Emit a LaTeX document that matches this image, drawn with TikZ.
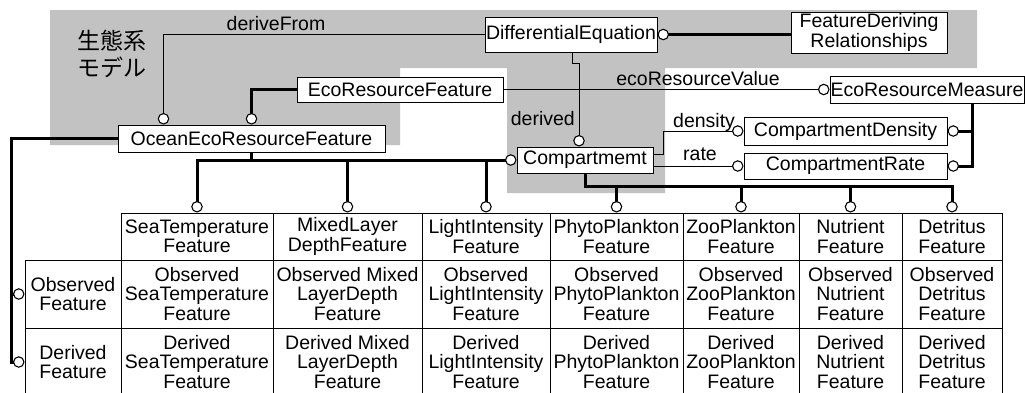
\documentclass[tikz,border=0pt]{standalone}
\usepackage{fontspec}
\setmainfont{Liberation Sans}
\newfontfamily\jpfont{Noto Sans CJK JP}
\usetikzlibrary{arrows.meta}

\begin{document}
\begin{tikzpicture}[x=1pt,y=-1pt,>={Circle[fill=white,length=11.5pt,line width'=1.1pt]},
	font=\fontsize{19.5}{19.5}\selectfont,
	box/.style={draw,line width=1pt,fill=white,inner sep=0pt,align=center},
	cell/.style={draw,line width=1pt,inner sep=0pt,align=center,minimum height=68pt},
	lbl/.style={inner sep=0pt},
	thk/.style={line width=3pt},
	thn/.style={line width=0.8pt}]
			\useasboundingbox(0,0)rectangle(1025,392);
			% shaded model area
			\fill[black!24](50,10)--(977,10)--(977,68)--(665,68)--(665,193)--(507,193)--(507,68)--(400,68)--(400,145)--(50,145)--cycle;
			\node[lbl,align=left,font=\jpfont\fontsize{23}{27}\selectfont](eco)at(112,53.5){生態系\\モデル};
			% classes
			\node[box,minimum width=172pt,minimum height=35pt](diffeq)at(571,34.5){DifferentialEquation};
			\node[box,minimum width=156pt,minimum height=41pt,font=\fontsize{19.5}{17.5}\selectfont](fdr)at(869,32.5){FeatureDeriving\\Relationships};
			\node[box,minimum width=206pt,minimum height=25pt](erf)at(400,89.5){EcoResourceFeature};
			\node[box,minimum width=194pt,minimum height=27pt](erm)at(927,89.5){EcoResourceMeasure};
			\node[box,minimum width=267pt,minimum height=27pt](oerf)at(251.5,138.5){OceanEcoResourceFeature};
			\node[box,minimum width=136pt,minimum height=26pt](cmp)at(585,160){Compartmemt};
			\node[box,minimum width=203pt,minimum height=28pt](cd)at(845.5,131){CompartmentDensity};
			\node[box,minimum width=203pt,minimum height=26pt](cr)at(845.5,166){CompartmentRate};
			% table
			\node[cell,minimum width=152pt,minimum height=47pt](st)at(197,236.5){SeaTemperature\\Feature};
			\node[cell,minimum width=149pt,minimum height=47pt](ml)at(347.5,236.5){MixedLayer\\DepthFeature};
			\node[cell,minimum width=128pt,minimum height=47pt](li)at(486,236.5){LightIntensity\\Feature};
			\node[cell,minimum width=133pt,minimum height=47pt](pp)at(616.5,236.5){PhytoPlankton\\Feature};
			\node[cell,minimum width=116pt,minimum height=47pt](zp)at(741,236.5){ZooPlankton\\Feature};
			\node[cell,minimum width=103pt,minimum height=47pt](nu)at(850.5,236.5){Nutrient\\Feature};
			\node[cell,minimum width=100pt,minimum height=47pt](dt)at(952,236.5){Detritus\\Feature};
			\node[cell,minimum width=96pt](obs)at(73,294){Observed\\Feature};
			\node[cell,minimum width=152pt](ost)at(197,294){Observed\\SeaTemperature\\Feature};
			\node[cell,minimum width=149pt](oml)at(347.5,294){Observed Mixed\\LayerDepth\\Feature};
			\node[cell,minimum width=128pt](oli)at(486,294){Observed\\LightIntensity\\Feature};
			\node[cell,minimum width=133pt](opp)at(616.5,294){Observed\\PhytoPlankton\\Feature};
			\node[cell,minimum width=116pt](ozp)at(741,294){Observed\\ZooPlankton\\Feature};
			\node[cell,minimum width=103pt](onu)at(850.5,294){Observed\\Nutrient\\Feature};
			\node[cell,minimum width=100pt](odt)at(952,294){Observed\\Detritus\\Feature};
			\node[cell,minimum width=96pt](der)at(73,362){Derived\\Feature};
			\node[cell,minimum width=152pt](dst)at(197,362){Derived\\SeaTemperature\\Feature};
			\node[cell,minimum width=149pt](dml)at(347.5,362){Derived Mixed\\LayerDepth\\Feature};
			\node[cell,minimum width=128pt](dli)at(486,362){Derived\\LightIntensity\\Feature};
			\node[cell,minimum width=133pt](dpp)at(616.5,362){Derived\\PhytoPlankton\\Feature};
			\node[cell,minimum width=116pt](dzp)at(741,362){Derived\\ZooPlankton\\Feature};
			\node[cell,minimum width=103pt](dnu)at(850.5,362){Derived\\Nutrient\\Feature};
			\node[cell,minimum width=100pt](ddt)at(952,362){Derived\\Detritus\\Feature};
			% associations
			\coordinate(cbus)at(585,186);
			\coordinate(lbus)at(11,138.5);
			\draw[thn,->](diffeq.west)-|([xshift=46pt]oerf.north west);
			\draw[thk,<-](diffeq.east)--(diffeq.east-|fdr.west);
			\draw[thn,->](erf.east)--(erm.west);
			\draw[thk,->](erf.west)-|(oerf.north);
			\draw[thn,->]([xshift=1pt]diffeq.south)--++(0,11)-|([xshift=-6pt]cmp.north);
			\draw[thn,->]([yshift=6pt]cmp.east)--++(10,0)|-(cd.west);
			\draw[thn,->](cmp.east|-cr.west)--(cr.west);
			\draw[thk,->]([xshift=-52pt]erm.south east)|-(cd.east);
			\draw[thk,->]([xshift=-52pt]erm.south east)|-(cr.east);
			\draw[thk,->](oerf.south)|-(cmp.west);
			\draw[thk,->](oerf.south)|-(cmp.west-|st.north)--(st.north);
			\draw[thk,->](cmp.west-|ml.north)--(ml.north);
			\draw[thk,->](cmp.west-|li.north)--(li.north);
			\draw[thk,->](cmp.south)--(cbus)-|(dt.north);
			\draw[thk,->](cbus-|pp.north)--(pp.north);
			\draw[thk,->](cbus-|zp.north)--(zp.north);
			\draw[thk,->](cbus-|nu.north)--(nu.north);
			\draw[thk,->](oerf.west)--(lbus)|-(obs.west);
			\draw[thk,->](lbus)|-(der.west);
			% role names
			\node[lbl,anchor=base](lderive)at(276,30){deriveFrom};
			\node[lbl,anchor=base](lvalue)at(698,85){ecoResourceValue};
			\node[lbl,anchor=base east](lderived)at(575,125){derived};
			\node[lbl,anchor=base west](ldensity)at(673,127){density};
			\node[lbl,anchor=base](lrate)at(700,160){rate};
		\end{tikzpicture}
\end{document}
